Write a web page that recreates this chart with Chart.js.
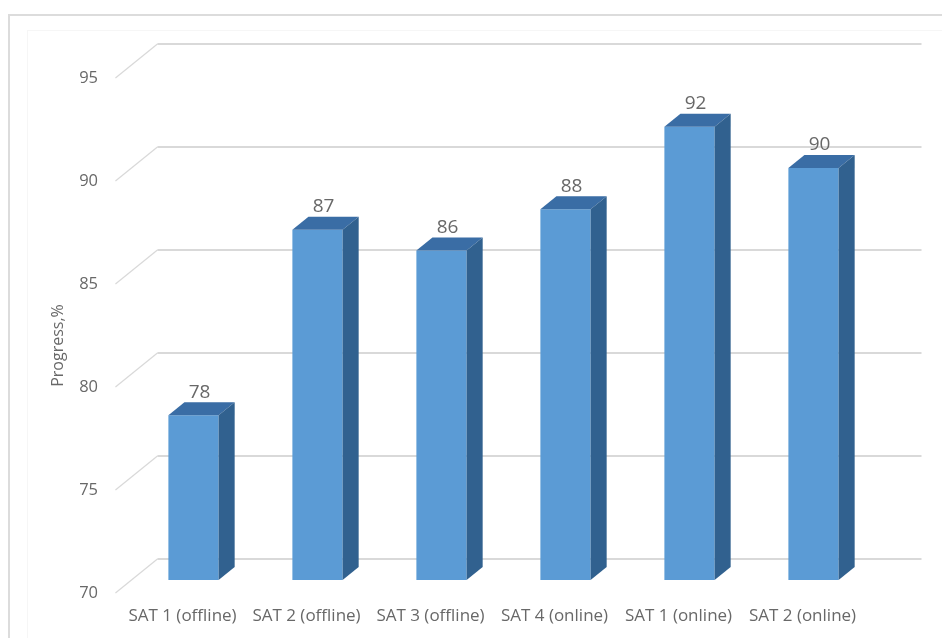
<!DOCTYPE html>
<html>
<head>
<meta charset="utf-8">
<title>Progress by SAT</title>
<script src="https://cdn.jsdelivr.net/npm/chart.js@4.4.1/dist/chart.umd.min.js"></script>
<style>
  html, body { margin: 0; padding: 0; background: #ffffff; }
  #wrap { width: 942px; height: 638px; }
</style>
</head>
<body>
<div id="wrap"><canvas id="chart" width="942" height="638"></canvas></div>
<script>
// Chart data
const categories = ['SAT 1 (offline)', 'SAT 2 (offline)', 'SAT 3 (offline)', 'SAT 4 (online)', 'SAT 1 (online)', 'SAT 2 (online)'];
const progress = [78, 87, 86, 88, 92, 90];
const yMin = 70;
const yMax = 95;
const yStep = 5;
const yTitle = 'Progress,%';

// Pseudo-3D look: a depth vector (per pixel of depth) and plane offsets
const DEPTH = { dx: 1.235, dy: -1 };
const BAR_DEPTH = 13;     // thickness of each column
const WALL_DEPTH = 21;    // back wall behind the column front plane
const FLOOR_FRONT = -13;  // front edge of the floor / label plane

const FONT = '"Open Sans", "Noto Sans", sans-serif';
const TEXT = '#686868';
const GRID = '#d9d9d9';

const wallPlugin = {
  id: 'wall',
  beforeDraw(chart) {
    const ctx = chart.ctx;
    ctx.save();
    ctx.fillStyle = '#ffffff';
    ctx.fillRect(0, 0, chart.width, chart.height);
    // outer frame
    ctx.strokeStyle = '#dcdcdc';
    ctx.lineWidth = 2;
    ctx.strokeRect(9, 15, chart.width + 20, chart.height + 20);
    ctx.strokeStyle = '#f6f6f6';
    ctx.lineWidth = 1;
    ctx.strokeRect(27.5, 30.5, chart.width, chart.height);
    ctx.restore();
  },
  beforeDatasetsDraw(chart) {
    const ctx = chart.ctx;
    const y = chart.scales.y;
    const area = chart.chartArea;
    const fx = area.left + FLOOR_FRONT * DEPTH.dx;
    const fyOff = FLOOR_FRONT * DEPTH.dy;
    const bx = area.left + WALL_DEPTH * DEPTH.dx;
    const byOff = WALL_DEPTH * DEPTH.dy;
    const rightEnd = area.right + 46;
    ctx.save();
    ctx.strokeStyle = GRID;
    y.ticks.forEach(t => {
      const py = y.getPixelForValue(t.value);
      ctx.lineWidth = 1.2;
      ctx.beginPath();
      ctx.moveTo(fx, py + fyOff);
      ctx.lineTo(bx, py + byOff);
      ctx.stroke();
      ctx.lineWidth = 2;
      ctx.beginPath();
      ctx.moveTo(bx, py + byOff);
      ctx.lineTo(rightEnd, py + byOff);
      ctx.stroke();
    });
    // axis title
    ctx.fillStyle = TEXT;
    ctx.font = '16px ' + FONT;
    ctx.textAlign = 'center';
    ctx.textBaseline = 'middle';
    ctx.translate(area.left - 73, (area.top + area.bottom) / 2 + 23);
    ctx.rotate(-Math.PI / 2);
    ctx.fillText(yTitle, 0, 0);
    ctx.restore();
  },
  afterDatasetsDraw(chart) {
    const ctx = chart.ctx;
    const area = chart.chartArea;
    const meta = chart.getDatasetMeta(0);
    const ddx = BAR_DEPTH * DEPTH.dx;
    const ddy = BAR_DEPTH * DEPTH.dy;
    ctx.save();
    meta.data.forEach((bar, i) => {
      const p = bar.getProps(['x', 'y', 'base', 'width'], true);
      const l = p.x - p.width / 2;
      const r = p.x + p.width / 2;
      const top = p.y;
      // the column stands on the floor at the bottom of the plot area
      const bottom = Math.min(p.base, area.bottom);
      // top face
      ctx.fillStyle = '#3a6da5';
      ctx.beginPath();
      ctx.moveTo(l, top);
      ctx.lineTo(r, top);
      ctx.lineTo(r + ddx, top + ddy);
      ctx.lineTo(l + ddx, top + ddy);
      ctx.closePath();
      ctx.fill();
      // side face
      ctx.fillStyle = '#31618f';
      ctx.beginPath();
      ctx.moveTo(r, top);
      ctx.lineTo(r + ddx, top + ddy);
      ctx.lineTo(r + ddx, bottom + ddy);
      ctx.lineTo(r, bottom);
      ctx.closePath();
      ctx.fill();
      // value label
      ctx.fillStyle = TEXT;
      ctx.font = '19px ' + FONT;
      ctx.textAlign = 'center';
      ctx.textBaseline = 'middle';
      ctx.fillText(String(progress[i]), p.x + 6, top - 23);
    });
    ctx.restore();
  }
};

new Chart(document.getElementById('chart'), {
  type: 'bar',
  data: {
    labels: categories,
    datasets: [{
      data: progress,
      backgroundColor: '#5b9bd5',
      borderWidth: 0,
      barPercentage: 0.405,
      categoryPercentage: 1
    }]
  },
  options: {
    responsive: false,
    animation: false,
    devicePixelRatio: 1,
    layout: { padding: { left: 0, top: 65, right: 66.5, bottom: 0 } },
    plugins: { legend: { display: false }, tooltip: { enabled: false } },
    scales: {
      x: {
        grid: { display: false },
        border: { display: false },
        ticks: {
          color: TEXT,
          font: { family: FONT, size: 17 },
          padding: 18,
          labelOffset: -11,
          maxRotation: 0,
          autoSkip: false
        },
        afterFit(scale) { scale.height = 58; }
      },
      y: {
        min: yMin,
        max: yMax,
        grid: { display: false },
        border: { display: false },
        ticks: {
          stepSize: yStep,
          color: TEXT,
          font: { family: FONT, size: 16.5 },
          padding: 25.5,
          labelOffset: 13
        },
        afterFit(scale) { scale.width = 131.5; }
      }
    }
  },
  plugins: [wallPlugin]
});
</script>
</body>
</html>
